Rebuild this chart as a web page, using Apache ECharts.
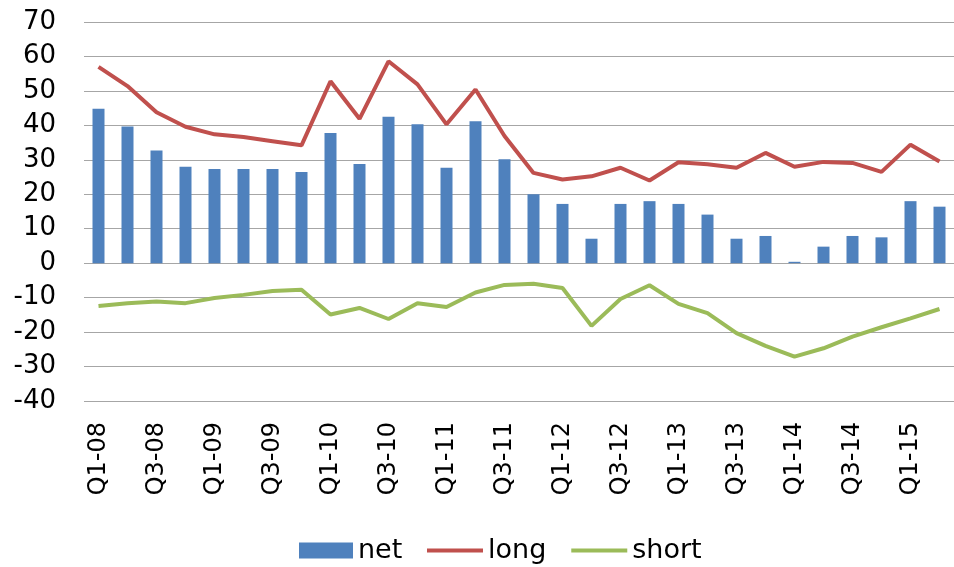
<!DOCTYPE html>
<html>
<head>
<meta charset="utf-8">
<script src="https://cdn.jsdelivr.net/npm/echarts@6/dist/echarts.min.js"></script>
<style>
  html, body { margin: 0; padding: 0; background: #fff; }
  #chart { width: 954px; height: 567px; }
</style>
</head>
<body>
<div id="chart"></div>
<script>
// quarters Q1-08 .. Q2-15
const quarters = [];
for (let y = 8; y <= 15; y++) {
  for (let q = 1; q <= 4; q++) {
    if (y === 15 && q > 2) break;
    quarters.push("Q" + q + "-" + (y < 10 ? "0" + y : y));
  }
}

const netData = [44.8, 39.7, 32.7, 28.0, 27.3, 27.3, 27.3, 26.5, 37.8, 28.8,
                 42.5, 40.3, 27.7, 41.2, 30.2, 20.0, 17.2, 7.1, 17.2, 18.0,
                 17.2, 14.1, 7.1, 7.9, 0.4, 4.8, 7.9, 7.5, 18.0, 16.4];
const longData = [57.0, 51.4, 43.8, 39.6, 37.4, 36.6, 35.4, 34.2, 52.8, 41.9,
                  58.6, 51.9, 40.3, 50.4, 36.9, 26.2, 24.3, 25.2, 27.7, 24.0,
                  29.3, 28.7, 27.7, 32.0, 28.0, 29.4, 29.1, 26.5, 34.4, 29.5];
const shortData = [-12.4, -11.6, -11.1, -11.6, -10.1, -9.2, -8.1, -7.7, -14.9, -13.0,
                   -16.2, -11.6, -12.7, -8.5, -6.3, -6.0, -7.2, -18.2, -10.4, -6.4,
                   -11.8, -14.5, -20.3, -24.0, -27.1, -24.7, -21.3, -18.6, -16.0, -13.3];

const font = "DejaVu Sans";
const chart = echarts.init(document.getElementById("chart"), null, { renderer: "canvas" });

chart.setOption({
  animation: false,
  color: ["#4f81bd", "#c0504d", "#9bbb59"],
  grid: { left: 84, right: -8, top: 22, bottom: 166, containLabel: false },
  legend: [
    {
      data: [{ name: "net", icon: "rect" }],
      left: 294,
      top: 532,
      itemWidth: 54,
      itemHeight: 16,
      textStyle: { fontFamily: font, fontSize: 27, color: "#000" }
    },
    {
      data: [{ name: "long", icon: "rect" }, { name: "short", icon: "rect" }],
      left: 422,
      top: 532,
      itemWidth: 56,
      itemHeight: 4,
      itemGap: 25,
      textStyle: { fontFamily: font, fontSize: 27, color: "#000" }
    }
  ],
  xAxis: {
    type: "category",
    data: quarters,
    boundaryGap: true,
    axisLine: { show: false, onZero: false },
    axisTick: { show: false },
    axisLabel: {
      interval: 1,
      rotate: 90,
      margin: 21,
      fontFamily: font,
      fontSize: 24,
      color: "#000"
    }
  },
  yAxis: {
    type: "value",
    min: -40,
    max: 70,
    interval: 10,
    axisLine: { show: false },
    axisTick: { show: false },
    splitLine: { lineStyle: { color: "#a6a6a6", width: 1 } },
    axisLabel: { margin: 28, fontFamily: font, fontSize: 26, color: "#000" }
  },
  series: [
    {
      name: "net",
      type: "bar",
      data: netData,
      barWidth: 12,
      itemStyle: { color: "#4f81bd" }
    },
    {
      name: "long",
      type: "line",
      data: longData,
      symbol: "none",
      lineStyle: { width: 4, color: "#c0504d" },
      itemStyle: { color: "#c0504d" }
    },
    {
      name: "short",
      type: "line",
      data: shortData,
      symbol: "none",
      lineStyle: { width: 4, color: "#9bbb59" },
      itemStyle: { color: "#9bbb59" }
    }
  ]
});
</script>
</body>
</html>
